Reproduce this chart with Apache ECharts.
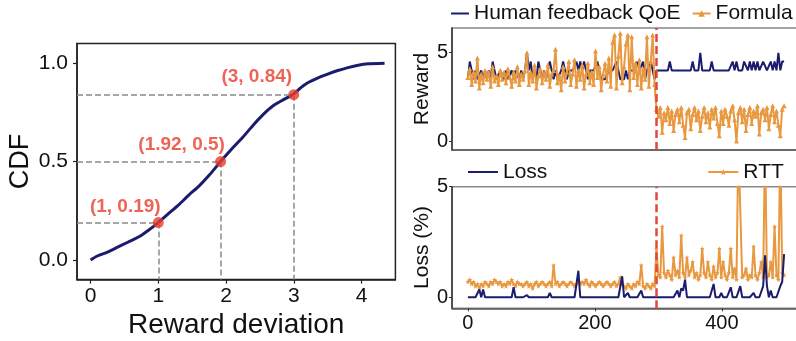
<!DOCTYPE html>
<html><head><meta charset="utf-8">
<script src="https://cdn.jsdelivr.net/npm/echarts@6/dist/echarts.min.js"></script>
<style>html,body{margin:0;padding:0;background:#fff}#c{width:796px;height:341px}</style>
</head><body><div id="c"></div>
<script>
// ---------- DATA ----------
// Left panel: CDF of reward deviation
const cdfX = [0, 0.1, 0.25, 0.4, 0.55, 0.7, 0.85, 1.0, 1.15, 1.3, 1.45, 1.6, 1.75, 1.92, 2.1, 2.25, 2.4, 2.55, 2.7, 2.85, 3.0, 3.1, 3.2, 3.35, 3.5, 3.65, 3.8, 3.95, 4.1, 4.34];
const cdfY = [0, 0.02, 0.04, 0.065, 0.09, 0.115, 0.15, 0.19, 0.235, 0.28, 0.33, 0.375, 0.43, 0.5, 0.57, 0.625, 0.685, 0.74, 0.785, 0.815, 0.844, 0.875, 0.9, 0.925, 0.945, 0.963, 0.978, 0.99, 0.997, 1.0];
const markX = [1, 1.92, 3];
const markY = [0.19, 0.5, 0.84];
const markLabels = ['(1, 0.19)', '(1.92, 0.5)', '(3, 0.84)'];
const cdfXTicks = [0, 1, 2, 3, 4];
const cdfYTicks = [0, 0.5, 1.0];

// Right panels: time series sampled every 3 steps (index 0..166 -> t 0..498)
const timeStep = 3;
const humanQoE = [
 3.5,4.5,4,3.5,4,3.5,3.5,4,3.5,4,
 3.5,4,3.5,4.5,4,3.5,3.5,4,4,3.5,
 4,3.5,3.5,4,3.5,4,4,3.5,4,3.5,
 4,5,4,4.5,3.5,4,3.5,4.5,4,3.5,
 4,3.5,3.5,4.5,4,3.5,4,3.5,3.5,4,
 4.5,4,3.5,4,4,4,4,4.5,4,4.5,
 4,4.5,4,3.5,4,4,4,4,4.5,4,
 3.5,3.5,3.5,3.5,4,4,4,4,4.5,4,
 3.5,3.5,3.5,4,3.5,4,4,4,4,4.5,
 4,4,4.5,3.5,4,4,4.5,4,3.5,
 4,4,4,4,4,4,4,4.5,4,4,
 4,4,4,4,4,4,4,4,4,4.5,
 4,4,4,5,4,4,4,4,4,4.5,
 4,4,4,4,4,4,4,4,4,4,
 4.5,4,4.5,4,4,4,4.5,4.5,4,4.5,
 4,4.5,4,4.5,4,4,4.5,4.5,4,4,
 4.5,4,4.5,4,5,4,4.5,4.5];
const formulaQoE = [
 3.6,4.1,3.2,3.9,3.4,4.7,3.0,3.8,3.3,4.0,
 3.5,3.9,3.1,4.2,3.4,3.7,3.2,4.0,3.5,3.9,
 3.3,4.1,3.6,3.1,3.9,3.4,4.2,3.2,3.8,3.5,
 4.0,5.0,3.2,3.9,3.4,4.3,3.0,3.7,4.1,3.3,
 3.9,3.5,4.3,3.1,3.8,4.0,5.2,3.3,3.7,2.9,
 4.2,3.4,3.9,4.5,3.2,3.8,4.6,3.1,4.0,3.5,
 4.3,3.0,3.8,4.4,3.3,3.9,3.2,5.1,3.6,4.2,
 2.9,3.8,4.4,3.4,4.7,3.1,5.6,6.0,3.0,4.8,
 6.1,3.3,4.2,5.5,6.0,2.9,5.9,3.6,4.4,3.2,
 4.6,3.0,4.1,3.5,5.9,3.1,4.5,6.0,3.2,
 1.8,1.4,1.9,0.5,1.6,1.2,1.9,1.0,1.7,0.6,
 1.5,1.8,1.1,1.9,0.9,0.2,1.6,1.8,0.7,1.5,
 1.9,1.2,1.7,0.6,1.4,1.9,1.1,1.6,0.8,1.8,
 1.3,1.9,1.0,0.3,1.7,1.0,1.8,1.4,0.9,1.7,
 2.0,1.2,0.0,1.6,1.9,1.1,1.8,0.6,1.5,1.9,
 1.0,1.7,1.4,2.0,0.4,1.6,1.8,1.2,1.9,0.7,
 1.5,2.0,1.1,1.7,0.9,0.3,1.8,2.0];
const lossPct = [
 0,0,0,0,0,0,0.35,0,0.35,0,
 0,0,0,0,0,0,0,0,0,0,
 0,0,0,0,0.45,0,0,0,0,0,
 0,0.1,0,0,0,0,0,0,0,0,
 0,0,0,0.2,0,0,0,0,0,0,
 0,0,0,0,0,0,0,0,1.2,0,
 0,0,0,0,0,0,0,0,0,0,
 0,0,0,0,0,0,0,0,0,0,
 0,0.95,0,0,0.2,0,0,0,0,0,
 0,0.3,0,0,0,0,0,0,0,
 0,0,0,0,0,0,0,0,0,0,
 0,0.3,0,0.4,0.3,0.8,0,0,0,0,
 0,0,0,0,0,0,0,0,0,0,
 0.6,0,0,0,0.2,0,0,0,0,0.45,
 0,0,0,0,0.5,0,0,0,0,0,
 0,0.2,0,0,0,0,0.5,1.9,0.5,0,
 0.3,0,0,0,0,0.5,0.7,1.95];
const rtt = [
 0.7,0.8,0.6,0.7,0.5,0.6,0.4,0.6,0.5,0.7,
 0.6,0.5,0.7,0.6,0.8,0.7,0.6,0.7,0.5,0.6,
 0.5,0.7,0.6,0.8,0.6,0.5,0.7,0.6,0.6,0.5,
 0.6,0.7,0.5,0.6,0.4,0.6,0.7,0.5,0.6,0.7,
 0.6,0.5,0.6,0.7,0.5,1.45,0.6,0.7,0.5,0.6,
 0.7,0.6,0.5,0.6,0.7,0.6,0.5,0.6,0.7,0.6,
 0.7,0.6,0.8,0.6,0.5,0.7,0.6,0.5,0.6,0.7,
 0.6,0.5,0.6,0.7,0.6,0.5,0.6,0.7,0.5,0.6,
 0.9,0.6,0.5,0.4,0.6,0.5,0.4,0.6,0.5,0.7,
 0.6,1.45,0.5,0.4,0.6,0.5,0.4,0.6,0.5,
 2.2,1.0,0.9,3.2,1.1,0.9,1.2,1.0,0.8,1.8,
 1.0,1.2,0.9,2.8,1.1,0.9,1.8,1.0,1.2,1.6,
 0.9,1.1,0.8,1.0,2.2,1.1,0.9,1.6,1.0,0.8,
 1.4,0.9,1.1,2.2,0.9,1.6,1.0,0.8,1.1,2.2,
 0.9,1.3,0.8,7,7,0.9,1.0,1.3,0.8,1.0,
 0.9,2.3,1.0,0.8,1.1,1.6,0.9,7,0.9,1.0,
 1.6,0.9,3.2,1.0,0.8,7,1.1,1.0];
const switchAt = 297;
const timeTicks = [0, 200, 400];
const rewardTicks = [0, 5];
const lossTicks = [0, 5];

// ---------- STYLE ----------
const FONT = 'Liberation Sans, Arial, sans-serif';
const NAVY = '#1b1c6e';
const ORANGE = '#e8983f';
const RED = '#e4463a';
const DOT = '#e83c2c';
const labelOffsets = [[-33, -16], [-39, -17], [-37, -18]];
const cdfXMin = -0.2, cdfXMax = 4.5, cdfYMin = -0.1, cdfYMax = 1.1;
const tMin = -25, tMax = 525;
const STAR = 'path://M0,-10L2.35,-3.24L9.51,-3.09L3.8,1.24L5.88,8.09L0,4L-5.88,8.09L-3.8,1.24L-9.51,-3.09L-2.35,-3.24Z';

const pairs = arr => arr.map((v, i) => [i * timeStep, v]);

const chart = echarts.init(document.getElementById('c'), null, {renderer: 'canvas'});

const baseText = {fontFamily: FONT, color: '#111'};
const noMarker = {opacity: 0};

chart.setOption({
  animation: false,
  backgroundColor: '#fff',
  textStyle: {fontFamily: FONT},
  grid: [
    {left: 77, top: 43.6, width: 318.4, height: 236, show: true, borderColor: '#222', borderWidth: 1.5, outerBoundsMode: 'none'},
    {left: 452, top: 28, width: 349.25, height: 121.9, show: true, borderColor: '#888', borderWidth: 1.5, outerBoundsMode: 'none'},
    {left: 452, top: 186.7, width: 349.25, height: 121.6, show: true, borderColor: '#888', borderWidth: 1.5, outerBoundsMode: 'none'}
  ],
  legend: [
    {data: [{name: 'Human feedback QoE', itemStyle: noMarker}, 'Formula'], left: 450, top: 3, padding: 0,
     itemWidth: 18, itemHeight: 8, itemGap: 11,
     textStyle: Object.assign({fontSize: 21}, baseText)},
    {data: [{name: 'Loss', itemStyle: noMarker}, 'RTT'], left: 467, top: 161.5, padding: 0,
     itemWidth: 30, itemHeight: 8, itemGap: 160,
     textStyle: Object.assign({fontSize: 21}, baseText)}
  ],
  xAxis: [
    {type: 'value', gridIndex: 0, min: cdfXMin, max: cdfXMax, splitLine: {show: false},
     axisLine: {show: true, onZero: false, lineStyle: {color: '#222', width: 1.5}},
     axisTick: {show: true, customValues: cdfXTicks, length: 4, lineStyle: {color: '#222', width: 1.2}},
     axisLabel: Object.assign({customValues: cdfXTicks, fontSize: 21, margin: 6}, baseText),
     name: 'Reward deviation', nameLocation: 'middle', nameGap: 27,
     nameTextStyle: Object.assign({fontSize: 28}, baseText)},
    {type: 'value', gridIndex: 1, min: tMin, max: tMax, splitLine: {show: false},
     axisLine: {show: true, onZero: false, lineStyle: {color: '#555', width: 1.5}},
     axisTick: {show: false}, axisLabel: {show: false}},
    {type: 'value', gridIndex: 2, min: tMin, max: tMax, splitLine: {show: false},
     axisLine: {show: true, onZero: false, lineStyle: {color: '#555', width: 1.5}},
     axisTick: {show: true, customValues: timeTicks, length: 3, lineStyle: {color: '#333'}},
     axisLabel: Object.assign({customValues: timeTicks, fontSize: 20, margin: 5}, baseText)}
  ],
  yAxis: [
    {type: 'value', gridIndex: 0, min: cdfYMin, max: cdfYMax, splitLine: {show: false},
     axisLine: {show: true, onZero: false, lineStyle: {color: '#222', width: 1.5}},
     axisTick: {show: true, customValues: cdfYTicks, length: 4, lineStyle: {color: '#222', width: 1.2}},
     axisLabel: Object.assign({customValues: cdfYTicks, fontSize: 21, margin: 9, formatter: v => v.toFixed(1)}, baseText),
     name: 'CDF', nameLocation: 'middle', nameGap: 43,
     nameTextStyle: Object.assign({fontSize: 27}, baseText)},
    {type: 'value', gridIndex: 1, min: -0.5, max: 6.4, splitLine: {show: false},
     axisLine: {show: true, onZero: false, lineStyle: {color: '#333', width: 1.5}},
     axisTick: {show: true, customValues: rewardTicks, length: 3, lineStyle: {color: '#333'}},
     axisLabel: Object.assign({customValues: rewardTicks, fontSize: 20, margin: 4}, baseText),
     name: 'Reward', nameLocation: 'middle', nameGap: 19,
     nameTextStyle: Object.assign({fontSize: 21}, baseText)},
    {type: 'value', gridIndex: 2, min: -0.5, max: 5, splitLine: {show: false},
     axisLine: {show: true, onZero: false, lineStyle: {color: '#333', width: 1.5}},
     axisTick: {show: true, customValues: lossTicks, length: 3, lineStyle: {color: '#333'}},
     axisLabel: Object.assign({customValues: lossTicks, fontSize: 20, margin: 4}, baseText),
     name: 'Loss (%)', nameLocation: 'middle', nameGap: 19,
     nameTextStyle: Object.assign({fontSize: 21}, baseText)}
  ],
  series: [
    {type: 'line', name: 'CDF', xAxisIndex: 0, yAxisIndex: 0, data: cdfX.map((x, i) => [x, cdfY[i]]),
     symbol: 'none', smooth: 0.25, lineStyle: {color: NAVY, width: 3}, z: 3},
    {type: 'scatter', name: 'marks', xAxisIndex: 0, yAxisIndex: 0, symbolSize: 11, z: 5,
     itemStyle: {color: DOT},
     data: markX.map((x, i) => ({value: [x, markY[i]], name: markLabels[i], label: {offset: labelOffsets[i]}})),
     label: {show: true, position: 'inside', formatter: p => p.name, fontFamily: FONT, fontWeight: 'bold', fontSize: 19, color: DOT},
     markLine: {silent: true, symbol: 'none', animation: false, label: {show: false},
       lineStyle: {color: '#8a8a8a', width: 1.5, type: [6, 3]},
       data: markX.flatMap((x, i) => [
         [{coord: [cdfXMin, markY[i]]}, {coord: [x, markY[i]]}],
         [{coord: [x, markY[i]]}, {coord: [x, cdfYMin]}]
       ])}},
    {type: 'line', name: 'Human feedback QoE', xAxisIndex: 1, yAxisIndex: 1, data: pairs(humanQoE),
     symbol: 'none', color: NAVY, lineStyle: {color: NAVY, width: 2}, z: 2},
    {type: 'line', name: 'Formula', xAxisIndex: 1, yAxisIndex: 1, data: pairs(formulaQoE),
     symbol: 'triangle', symbolSize: 5, showAllSymbol: true, color: ORANGE,
     itemStyle: {color: ORANGE}, lineStyle: {color: ORANGE, width: 2}, z: 3,
     markLine: {silent: true, symbol: 'none', label: {show: false},
       lineStyle: {color: RED, width: 2.5, type: [8, 4]}, data: [{xAxis: switchAt}]}},
    {type: 'line', name: 'RTT', xAxisIndex: 2, yAxisIndex: 2, data: pairs(rtt),
     symbol: STAR, symbolSize: 5, showAllSymbol: true, color: ORANGE,
     itemStyle: {color: ORANGE}, lineStyle: {color: ORANGE, width: 2}, z: 2},
    {type: 'line', name: 'Loss', xAxisIndex: 2, yAxisIndex: 2, data: pairs(lossPct),
     symbol: 'none', color: NAVY, lineStyle: {color: NAVY, width: 2}, z: 3,
     markLine: {silent: true, symbol: 'none', label: {show: false},
       lineStyle: {color: RED, width: 2.5, type: [8, 4]}, data: [{xAxis: switchAt}]}}
  ]
});
</script>
</body></html>
